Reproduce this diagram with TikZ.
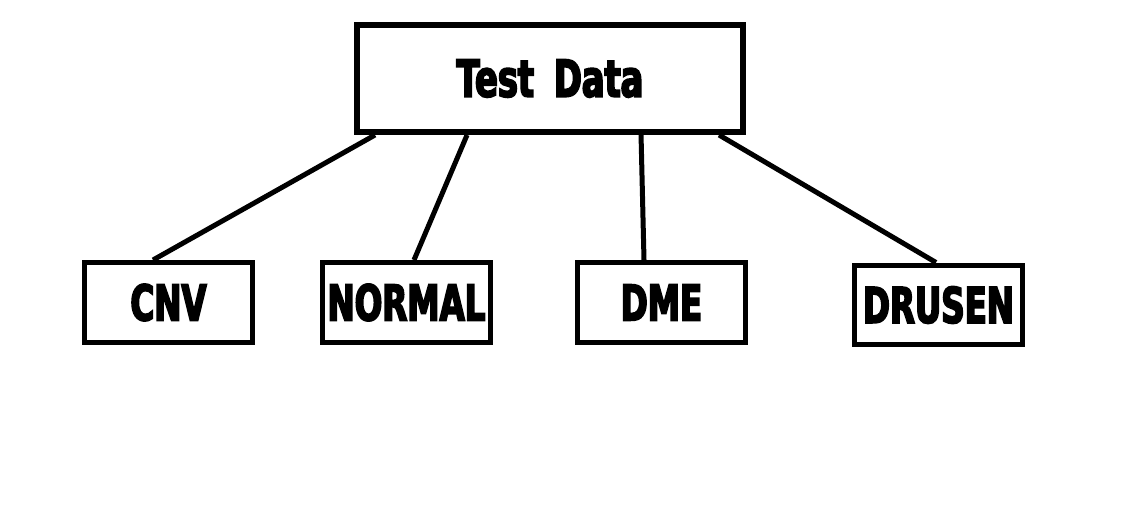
\documentclass[tikz,border=0pt]{standalone}
\usepackage{fontspec}
\newfontfamily\heavyfont{DejaVu Sans}[FakeStretch=0.66,FakeBold=3.5]
\usetikzlibrary{calc}
\tikzset{
  topbox/.style={draw,line width=0.12cm,minimum width=7.72cm,minimum height=2.14cm,inner sep=0pt,
    font=\heavyfont\bfseries\fontsize{29}{32}\selectfont},
  classbox/.style={draw,line width=0.1cm,minimum width=3.36cm,minimum height=1.6cm,inner sep=0pt,
    font=\heavyfont\bfseries\fontsize{28}{30}\selectfont},
  branch/.style={black,line width=0.1cm}
}
\begin{document}
\begin{tikzpicture}[x=0.02cm,y=-0.02cm]
  \useasboundingbox (0,0) rectangle (1140,506);
  \node [topbox] (test) at (550,78.5) {Test\hspace{0.4cm}Data};
  \node [classbox] (cnv) at (168.5,302.5) {CNV\hspace{0.3cm}};
  \node [classbox] (normal) at (406.5,302.5) {NORMAL};
  \node [classbox] (dme) at (661.5,302.5) {DME};
  \node [classbox] (drusen) at (938.5,305) {DRUSEN};
  \draw [branch] ($(test.south west)+(21,0)$) -- ($(cnv.north)+(-15.5,0)$);
  \draw [branch] ($(test.south west)+(113,0)$) -- ($(normal.north)+(7.5,0)$);
  \draw [branch] ($(test.south west)+(287,0)$) -- ($(dme.north)+(-17.5,0)$);
  \draw [branch] ($(test.south west)+(365,0)$) -- ($(drusen.north)+(-2.5,0)$);
\end{tikzpicture}
\end{document}
